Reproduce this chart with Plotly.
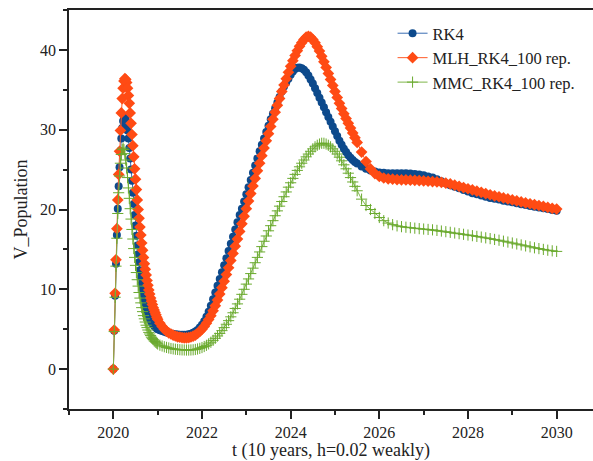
import numpy as np
import plotly.graph_objects as go

# time grid: h=0.02 for the first year, then coarser sampling of read values
# RK4 values
rk4_a = [0, 4.8, 9.2, 13.2, 16.8, 20.1, 22.9, 25.3, 27.3, 28.9,
         30.2, 31.1, 31.6, 31.6, 31.3, 30.7, 29.9, 28.9, 27.7, 26.4,
         25.0, 23.6, 22.1, 20.7, 19.3, 18.0, 16.7, 15.5, 14.4, 13.4,
         12.4, 11.5, 10.7, 10.0, 9.3, 8.7, 8.2, 7.7, 7.3, 6.9,
         6.6, 6.3, 6.1, 5.9, 5.7, 5.55, 5.4, 5.3, 5.2, 5.1]
rk4_b = [5.0, 4.88, 4.78, 4.68, 4.6, 4.52, 4.46, 4.4, 4.36, 4.33,
         4.31, 4.3, 4.3, 4.32, 4.36, 4.44, 4.55, 4.7, 4.9, 5.2,
         5.55, 6.0, 6.55, 7.2, 7.95, 8.75, 9.6, 10.45, 11.3, 12.15,
         13.0, 13.9, 14.8, 15.7, 16.6, 17.5, 18.4, 19.3, 20.1, 21.0,
         21.9, 22.8, 23.7, 24.6, 25.5, 26.4, 27.3, 28.1, 28.9, 29.7,
         30.5, 31.3, 32.0, 32.7, 33.4, 34.1, 34.8, 35.4, 35.9, 36.4,
         36.9, 37.3, 37.6, 37.75, 37.8, 37.7, 37.5, 37.2, 36.8, 36.3,
         35.8, 35.2, 34.6, 34.0, 33.4, 32.8, 32.2, 31.6, 31.0, 30.4,
         29.8, 29.2, 28.6, 28.1, 27.6, 27.2, 26.8, 26.5, 26.2, 25.95]
rk4_c = [25.75, 25.4, 25.1, 24.9, 24.75,
         24.65, 24.6, 24.55, 24.55, 24.55,
         24.55, 24.55, 24.5, 24.45, 24.4,
         24.3, 24.15, 24.0, 23.8, 23.55,
         23.3, 23.05, 22.85, 22.65, 22.45,
         22.25, 22.05, 21.9, 21.75, 21.6,
         21.45, 21.35, 21.25, 21.1, 21.0,
         20.9, 20.78, 20.66, 20.55, 20.45,
         20.35, 20.25, 20.15, 20.05, 19.95,
         19.85]

# MLH_RK4_100 rep. values
mlh_a = [0, 4.9, 9.5, 13.7, 17.6, 21.2, 24.4, 27.3, 29.9, 32.1,
         33.9, 35.2, 36.1, 36.4, 36.3, 35.9, 35.2, 34.3, 33.3, 32.1,
         30.8, 29.4, 28.0, 26.6, 25.1, 23.8, 22.5, 21.2, 20.0, 18.9,
         17.8, 16.8, 15.8, 14.9, 14.0, 13.2, 12.5, 11.8, 11.1, 10.5,
         9.9, 9.4, 8.9, 8.5, 8.1, 7.7, 7.4, 7.1, 6.8, 6.5]
mlh_b = [6.25, 5.75, 5.35, 5.0, 4.75, 4.55, 4.4, 4.25, 4.15, 4.05,
         4.0, 3.95, 3.92, 3.92, 3.95, 4.02, 4.12, 4.27, 4.47, 4.72,
         5.0, 5.35, 5.75, 6.2, 6.7, 7.3, 7.95, 8.65, 9.4, 10.2,
         11.0, 11.85, 12.7, 13.6, 14.5, 15.4, 16.3, 17.25, 18.2, 19.15,
         20.1, 21.05, 22.0, 22.95, 23.9, 24.85, 25.8, 26.75, 27.7, 28.6,
         29.5, 30.4, 31.3, 32.2, 33.05, 33.9, 34.8, 35.6, 36.4, 37.2,
         37.95, 38.65, 39.3, 39.9, 40.45, 40.9, 41.3, 41.6, 41.7, 41.6,
         41.3, 40.9, 40.4, 39.85, 39.2, 38.5, 37.8, 37.05, 36.3, 35.55,
         34.8, 34.05, 33.3, 32.65, 32.0, 31.4, 30.8, 30.2, 29.6, 29.0]
mlh_c = [28.4, 27.2, 26.0, 25.1, 24.5,
         24.15, 23.95, 23.85, 23.8, 23.75,
         23.72, 23.7, 23.68, 23.66, 23.62,
         23.58, 23.54, 23.5, 23.45, 23.4,
         23.3, 23.2, 23.05, 22.9, 22.75,
         22.6, 22.45, 22.3, 22.15, 22.0,
         21.85, 21.7, 21.6, 21.45, 21.32,
         21.2, 21.07, 20.95, 20.83, 20.72,
         20.6, 20.5, 20.38, 20.26, 20.15,
         20.05]

# MMC_RK4_100 rep. values
mmc_a = [0, 4.7, 9.0, 12.9, 16.4, 19.5, 22.1, 24.2, 25.8, 26.9,
         27.5, 27.7, 27.5, 27.0, 26.2, 25.2, 24.0, 22.7, 21.4, 20.1,
         18.8, 17.5, 16.3, 15.1, 14.0, 13.0, 12.1, 11.2, 10.4, 9.6,
         8.9, 8.3, 7.7, 7.2, 6.7, 6.3, 5.9, 5.5, 5.2, 4.9,
         4.6, 4.4, 4.2, 4.0, 3.85, 3.7, 3.55, 3.45, 3.35, 3.25]
mmc_b = [3.15, 3.0, 2.9, 2.8, 2.72, 2.65, 2.58, 2.53, 2.49, 2.46,
         2.43, 2.41, 2.4, 2.39, 2.39, 2.4, 2.42, 2.46, 2.52, 2.6,
         2.7, 2.83, 2.98, 3.16, 3.37, 3.6, 3.86, 4.15, 4.47, 4.82,
         5.2, 5.62, 6.07, 6.55, 7.06, 7.6, 8.17, 8.76, 9.37, 10.0,
         10.65, 11.3, 11.97, 12.65, 13.33, 14.0, 14.68, 15.35, 16.02, 16.68,
         17.33, 17.97, 18.6, 19.22, 19.83, 20.42, 21.0, 21.6, 22.2, 22.8,
         23.35, 23.9, 24.4, 24.9, 25.35, 25.8, 26.2, 26.6, 26.95, 27.3,
         27.6, 27.85, 28.05, 28.2, 28.3, 28.3, 28.2, 28.05, 27.85, 27.6,
         27.3, 26.95, 26.55, 26.1, 25.6, 25.1, 24.55, 24.0, 23.45, 22.9]
mmc_c = [22.35, 21.3, 20.5, 20.0, 19.5,
         19.0, 18.6, 18.3, 18.1, 17.95,
         17.85, 17.78, 17.72, 17.66, 17.6,
         17.55, 17.5, 17.45, 17.38, 17.3,
         17.22, 17.14, 17.05, 16.97, 16.89,
         16.8, 16.72, 16.63, 16.54, 16.45,
         16.35, 16.25, 16.15, 16.03, 15.92,
         15.8, 15.68, 15.56, 15.44, 15.32,
         15.2, 15.1, 15.0, 14.9, 14.82,
         14.75]

t_a = 2020 + 0.02 * np.arange(len(rk4_a))
t_b = 2021 + 0.05 * np.arange(len(rk4_b))
t_c = 2025.5 + 0.1 * np.arange(len(rk4_c))
t = np.concatenate([t_a, t_b, t_c])

rk4 = rk4_a + rk4_b + rk4_c
mlh = mlh_a + mlh_b + mlh_c
mmc = mmc_a + mmc_b + mmc_c

series_names = ["RK4", "MLH_RK4_100 rep.", "MMC_RK4_100 rep."]
x_ticks = [2020, 2022, 2024, 2026, 2028, 2030]
y_ticks = [0, 10, 20, 30, 40]

FONT = "Liberation Serif"

fig = go.Figure()
fig.add_trace(go.Scatter(
    x=t, y=rk4, name=series_names[0], mode="lines+markers", legendgroup="a",
    line=dict(color="#3a6db3", width=1),
    marker=dict(symbol="circle", size=8, color="#0d4a8c"),
))
fig.add_trace(go.Scatter(
    x=t, y=mlh, name=series_names[1], mode="lines+markers", legendgroup="b",
    line=dict(color="#ff5a26", width=1),
    marker=dict(symbol="diamond", size=9, color="#ff4b14"),
))
fig.add_trace(go.Scatter(
    x=t, y=mmc, name=series_names[2], mode="lines+markers", legendgroup="c",
    line=dict(color="#7fb54a", width=1),
    marker=dict(symbol="cross-thin", size=8, color="#6aaa2e",
                line=dict(color="#6aaa2e", width=1)),
))

axis_common = dict(
    showgrid=False, zeroline=False, showline=True, linecolor="#222",
    linewidth=1.5, ticks="outside", ticklen=8, tickwidth=1.5,
    tickcolor="#222", tickfont=dict(family=FONT, size=16, color="#222"),
    automargin=False,
)
fig.update_xaxes(
    range=[2019, 2030.82], tickvals=x_ticks, mirror=True,
    minor=dict(ticks="outside", ticklen=4, tickwidth=1.5, tickcolor="#222",
               dtick=1, tick0=2019, showgrid=False),
    title=dict(text="t (10 years, h=0.02 weakly)",
               font=dict(family=FONT, size=18, color="#222"), standoff=4),
    **axis_common,
)
fig.update_yaxes(
    range=[-5, 45], tickvals=y_ticks,
    minor=dict(ticks="outside", ticklen=4, tickwidth=1.5, tickcolor="#222",
               dtick=5, tick0=-5, showgrid=False),
    title=dict(text="V_Population",
               font=dict(family=FONT, size=18, color="#222"), standoff=8),
    **axis_common,
)
fig.update_layout(
    width=593, height=461,
    margin=dict(l=69, r=0, t=10, b=52),
    plot_bgcolor="white", paper_bgcolor="white",
    font=dict(family=FONT, size=16, color="#222"),
    legend=dict(x=0.6175, y=0.985, xanchor="left", yanchor="top",
                bgcolor="rgba(0,0,0,0)", font=dict(family=FONT, size=16.5),
                tracegroupgap=0),
    showlegend=True,
)

fig.write_html(
    "out.html",
    config={"displayModeBar": False},
    post_script="document.body.style.margin='0';document.body.style.overflow='hidden';",
)
